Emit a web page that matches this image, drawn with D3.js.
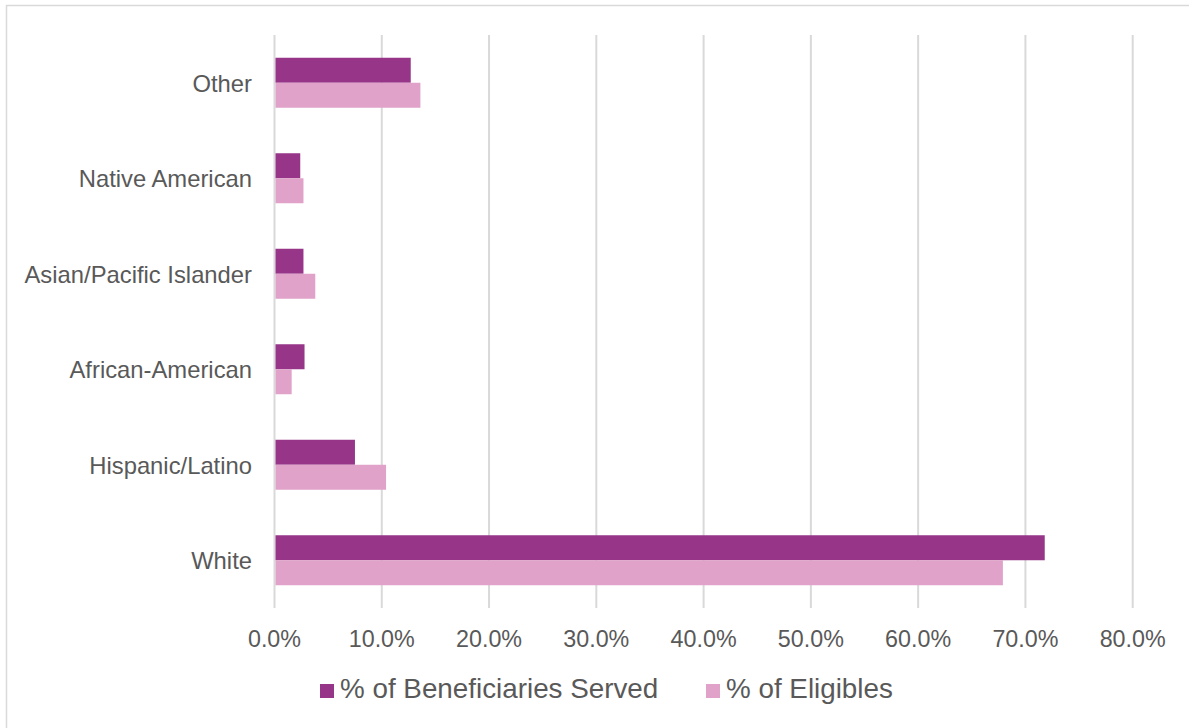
<!DOCTYPE html>
<html>
<head>
<meta charset="utf-8">
<script src="https://cdn.jsdelivr.net/npm/d3@7"></script>
<style>
  body { margin: 0; background: #fff; }
  svg { display: block; font-family: "Liberation Sans", Arial, sans-serif; }
</style>
</head>
<body>
<svg width="1189" height="728"></svg>
<script>
// categories top -> bottom as drawn
const categories = ["Other", "Native American", "Asian/Pacific Islander", "African-American", "Hispanic/Latino", "White"];
const seriesNames = ["% of Beneficiaries Served", "% of Eligibles"];
const served = [12.7, 2.4, 2.7, 2.8, 7.5, 71.8];
const eligibles = [13.6, 2.7, 3.8, 1.6, 10.4, 67.9];
const ticks = [0, 10, 20, 30, 40, 50, 60, 70, 80];
const colors = ["#973689", "#e0a2c9"];

const svg = d3.select("svg");
const textColor = "#595959";

// outer frame (runs off right/bottom edge in the original)
svg.append("rect")
  .attr("x", 6.5).attr("y", 5.5)
  .attr("width", 1200).attr("height", 740)
  .attr("fill", "none")
  .attr("stroke", "#d9d9d9")
  .attr("stroke-width", 1.5);

const x = d3.scaleLinear().domain([0, 80]).range([274.5, 1132.7]);
const y = d3.scaleBand().domain(categories).range([35, 608]);
const inner = d3.scaleBand().domain(seriesNames)
  .range([0, y.bandwidth()]).paddingOuter(0.91).paddingInner(0);

// gridlines
svg.append("g").selectAll("line")
  .data(ticks)
  .join("line")
  .attr("x1", d => x(d)).attr("x2", d => x(d))
  .attr("y1", 35).attr("y2", 608)
  .attr("stroke", "#d9d9d9")
  .attr("stroke-width", 2);

// bars
const rows = categories.map((c, i) => ({ cat: c, vals: [served[i], eligibles[i]] }));
const groups = svg.append("g").selectAll("g")
  .data(rows)
  .join("g")
  .attr("transform", d => `translate(0,${y(d.cat)})`);

groups.selectAll("rect")
  .data(d => d.vals.map((v, j) => ({ name: seriesNames[j], v, j })))
  .join("rect")
  .attr("x", x(0) + 1)
  .attr("y", d => inner(d.name))
  .attr("width", d => x(d.v) - x(0) - 1)
  .attr("height", inner.bandwidth())
  .attr("fill", d => colors[d.j]);

// category labels
svg.append("g").selectAll("text")
  .data(categories)
  .join("text")
  .attr("x", 252)
  .attr("y", d => y(d) + y.bandwidth() / 2)
  .attr("dy", "0.37em")
  .attr("text-anchor", "end")
  .attr("font-size", 23.8)
  .attr("fill", textColor)
  .text(d => d);

// x tick labels
svg.append("g").selectAll("text")
  .data(ticks)
  .join("text")
  .attr("x", d => x(d))
  .attr("y", 647)
  .attr("text-anchor", "middle")
  .attr("font-size", 23.3)
  .attr("fill", textColor)
  .text(d => d3.format(".1f")(d) + "%");

// legend
const legendX = [320, 706];
const legend = svg.append("g").selectAll("g")
  .data(seriesNames)
  .join("g")
  .attr("transform", (d, i) => `translate(${legendX[i]},0)`);

legend.append("rect")
  .attr("x", 0).attr("y", 684)
  .attr("width", 14).attr("height", 14)
  .attr("fill", (d, i) => colors[i]);

legend.append("text")
  .attr("x", 20)
  .attr("y", 698)
  .attr("font-size", 27.8)
  .attr("fill", textColor)
  .text(d => d);
</script>
</body>
</html>
